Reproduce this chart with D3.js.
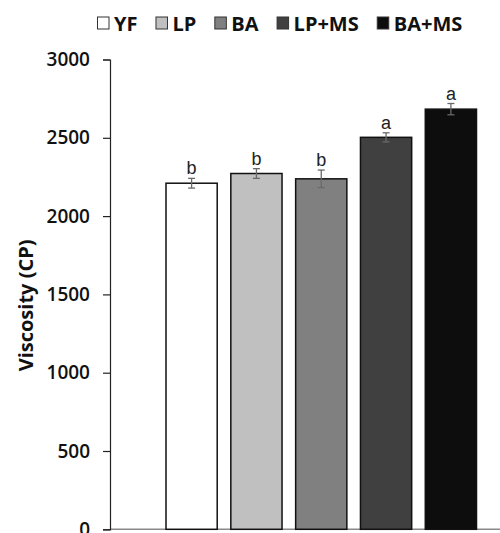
<!DOCTYPE html>
<html>
<head>
<meta charset="utf-8">
<script src="https://cdn.jsdelivr.net/npm/d3@7"></script>
<style>
  body { margin: 0; background: #fff; }
  svg { display: block; }
</style>
</head>
<body>
<svg id="chart"></svg>
<script>
// data
const groups = ['YF', 'LP', 'BA', 'LP+MS', 'BA+MS']
const viscosity = [2210, 2272, 2238, 2503, 2683]
const errors = [31, 31, 56, 29, 36]
const letters = ['b', 'b', 'b', 'a', 'a']
const fills = ['#ffffff', '#c0c0c0', '#808080', '#404040', '#0d0d0d']
const yTicks = [0, 500, 1000, 1500, 2000, 2500, 3000]

const width = 500, height = 533
const svg = d3.select('#chart').attr('width', width).attr('height', height)
svg.append('rect').attr('width', width).attr('height', height).attr('fill', '#fff')

const y = d3.scaleLinear().domain([0, 3000]).range([529.3, 59.5])
const x = d3.scaleBand().domain(groups).range([166, 476.5]).paddingInner(0.21).paddingOuter(0)

const font = "'Open Sans', 'DejaVu Sans', sans-serif"

// x axis line (grey)
svg.append('line')
	.attr('x1', 110).attr('x2', 500)
	.attr('y1', y(0)).attr('y2', y(0))
	.attr('stroke', '#8a8a8a').attr('stroke-width', 1.5)

// bars
svg.selectAll('rect.bar')
	.data(groups)
	.enter()
	.append('rect')
	.attr('class', 'bar')
	.attr('x', d => x(d))
	.attr('width', x.bandwidth())
	.attr('y', (d, i) => y(viscosity[i]))
	.attr('height', (d, i) => y(0) - y(viscosity[i]))
	.attr('fill', (d, i) => fills[i])
	.attr('stroke', '#111')
	.attr('stroke-width', 1.5)

// error bars
const eb = svg.selectAll('g.err')
	.data(groups)
	.enter()
	.append('g')
	.attr('class', 'err')
	.attr('stroke', '#6a6a6a')
	.attr('stroke-width', 1.3)

const cx = d => x(d) + x.bandwidth() / 2
eb.append('line')
	.attr('x1', cx).attr('x2', cx)
	.attr('y1', (d, i) => y(viscosity[i] + errors[i]))
	.attr('y2', (d, i) => y(viscosity[i] - errors[i]))
eb.append('line')
	.attr('x1', d => cx(d) - 3.5).attr('x2', d => cx(d) + 3.5)
	.attr('y1', (d, i) => y(viscosity[i] + errors[i]))
	.attr('y2', (d, i) => y(viscosity[i] + errors[i]))
eb.append('line')
	.attr('x1', d => cx(d) - 3.5).attr('x2', d => cx(d) + 3.5)
	.attr('y1', (d, i) => y(viscosity[i] - errors[i]))
	.attr('y2', (d, i) => y(viscosity[i] - errors[i]))

// significance letters
svg.selectAll('text.sig')
	.data(groups)
	.enter()
	.append('text')
	.attr('class', 'sig')
	.attr('x', cx)
	.attr('y', (d, i) => y(viscosity[i] + errors[i]) - 4)
	.attr('text-anchor', 'middle')
	.attr('font-family', "'Liberation Sans', Arial, sans-serif")
	.attr('font-size', 18)
	.attr('fill', '#222')
	.text((d, i) => letters[i])

// y axis
const yAxis = svg.append('g')
	.attr('transform', 'translate(110,0)')
	.call(d3.axisLeft(y).tickValues(yTicks).tickSize(7).tickPadding(13).tickFormat(d3.format('d')))
yAxis.select('.domain').attr('stroke', '#222').attr('stroke-width', 1.2)
yAxis.selectAll('.tick line').attr('stroke', '#222').attr('stroke-width', 1.2)
yAxis.selectAll('.tick text')
	.attr('font-family', font)
	.attr('font-size', 19)
	.attr('font-weight', 600)
	.attr('fill', '#111')

// y axis title
svg.append('text')
	.attr('transform', `translate(33,${(y(0) + y(3000)) / 2 + 11}) rotate(-90)`)
	.attr('text-anchor', 'middle')
	.attr('font-family', font)
	.attr('font-size', 20)
	.attr('font-weight', 700)
	.attr('fill', '#111')
	.text('Viscosity (CP)')

// legend
const legend = svg.append('g')
let lx = 97
groups.forEach((g, i) => {
	legend.append('rect')
		.attr('x', lx + 0.5).attr('y', 17)
		.attr('width', 11.5).attr('height', 12)
		.attr('fill', fills[i])
		.attr('stroke', '#333').attr('stroke-width', 1)
	const t = legend.append('text')
		.attr('x', lx + 17).attr('y', 31)
		.attr('font-family', font)
		.attr('font-size', 20)
		.attr('font-weight', 700)
		.attr('fill', '#111')
		.text(g)
	lx += 17 + t.node().getComputedTextLength() + 18
})
</script>
</body>
</html>
